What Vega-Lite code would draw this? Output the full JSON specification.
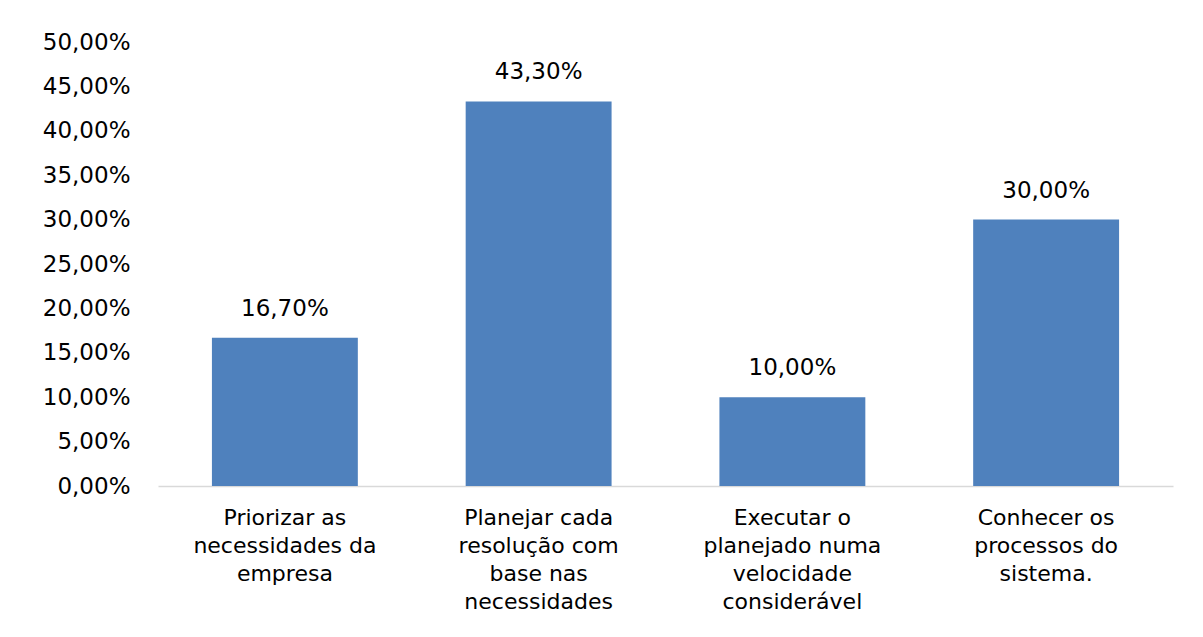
{
  "$schema": "https://vega.github.io/schema/vega-lite/v6.json",
  "width": 1015,
  "height": 444,
  "autosize": {"type": "none"},
  "padding": {"left": 158, "top": 42, "right": 30, "bottom": 151},
  "background": "white",
  "config": {
    "locale": {"number": {"decimal": ",", "thousands": ".", "grouping": [3], "currency": ["R$", ""]}},
    "view": {"stroke": null},
    "font": "DejaVu Sans"
  },
  "data": {
    "values": [
      {"cat": "Priorizar as\nnecessidades da\nempresa", "value": 0.167},
      {"cat": "Planejar cada\nresolução com\nbase nas\nnecessidades", "value": 0.433},
      {"cat": "Executar o\nplanejado numa\nvelocidade\nconsiderável", "value": 0.10},
      {"cat": "Conhecer os\nprocessos do\nsistema.", "value": 0.30}
    ]
  },
  "encoding": {
    "x": {
      "field": "cat", "type": "nominal", "sort": null,
      "scale": {"paddingInner": 0.425, "paddingOuter": 0.2125},
      "axis": {
        "title": null, "labelAngle": 0, "ticks": false,
        "domainColor": "#D9D9D9", "domainWidth": 1.5,
        "labelExpr": "split(datum.label, '\\n')",
        "labelFont": "DejaVu Sans", "labelFontSize": 22, "labelColor": "#000000",
        "labelLineHeight": 28, "labelPadding": 21, "labelBaseline": "top", "labelLimit": 300
      }
    },
    "y": {
      "field": "value", "type": "quantitative",
      "scale": {"domain": [0, 0.5], "nice": false},
      "axis": {
        "title": null, "format": ".2%", "values": [0, 0.05, 0.1, 0.15, 0.2, 0.25, 0.3, 0.35, 0.4, 0.45, 0.5],
        "domain": false, "ticks": false, "grid": false,
        "labelFont": "DejaVu Sans", "labelFontSize": 23, "labelColor": "#000000",
        "labelPadding": 28
      }
    }
  },
  "layer": [
    {"mark": {"type": "bar", "color": "#4F81BD"}},
    {
      "mark": {"type": "text", "dy": -17, "baseline": "bottom", "font": "DejaVu Sans", "fontSize": 23, "color": "#000000"},
      "encoding": {"text": {"field": "value", "type": "quantitative", "format": ".2%"}}
    }
  ]
}
